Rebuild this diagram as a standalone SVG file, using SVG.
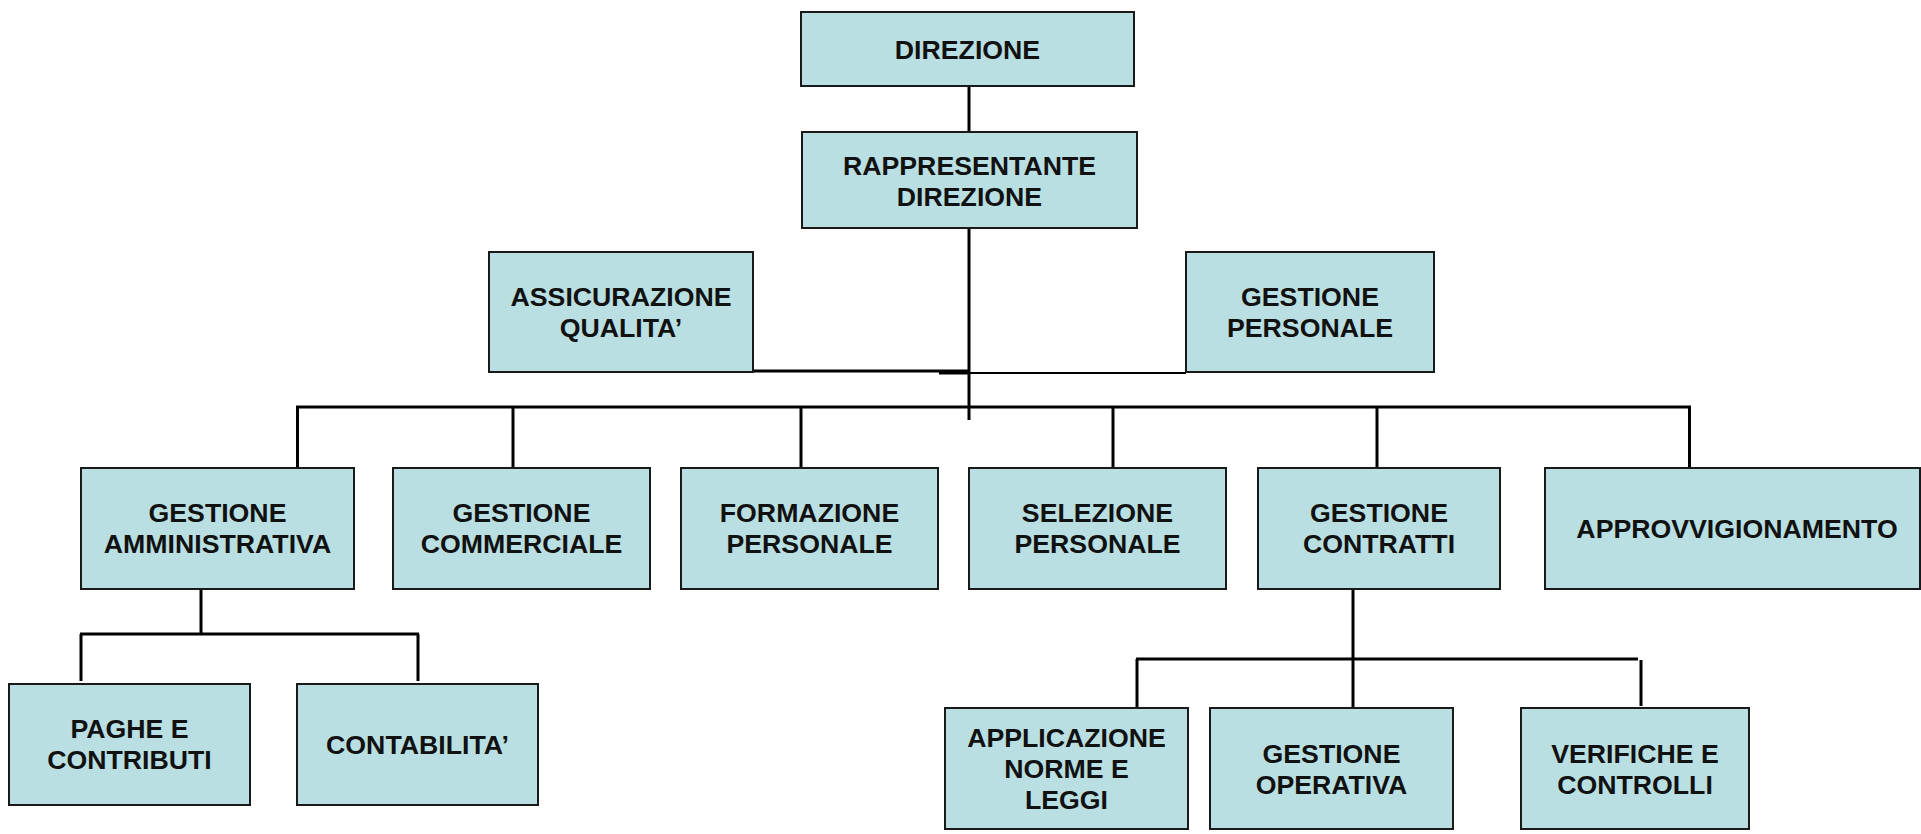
<svg xmlns="http://www.w3.org/2000/svg" width="1921" height="834" viewBox="0 0 1921 834">
<style>
.box{fill:#b9dfe2;stroke:#1a1a1a;stroke-width:2}
.t{font-family:"Liberation Sans",Arial,sans-serif;font-weight:bold;font-size:26.7px;fill:#111;text-anchor:middle}
.c{stroke:#000;stroke-width:3;fill:none}
.c2{stroke:#000;stroke-width:2;fill:none}
</style>
<rect width="1921" height="834" fill="#fff"/>
<g id="connectors">
<line class="c" x1="969" y1="86" x2="969" y2="132"/>
<line class="c" x1="969" y1="228" x2="969" y2="420"/>
<line class="c" x1="753" y1="371" x2="969" y2="371"/>
<line class="c" x1="939" y1="373" x2="969" y2="373"/>
<line class="c2" x1="969" y1="373" x2="1186" y2="373"/>
<line class="c" x1="296" y1="407" x2="1691" y2="407"/>
<line class="c" x1="297.5" y1="407" x2="297.5" y2="468"/>
<line class="c" x1="513" y1="407" x2="513" y2="468"/>
<line class="c" x1="801" y1="407" x2="801" y2="468"/>
<line class="c" x1="1113" y1="407" x2="1113" y2="468"/>
<line class="c" x1="1377" y1="407" x2="1377" y2="468"/>
<line class="c" x1="1689.5" y1="407" x2="1689.5" y2="468"/>
<line class="c" x1="201" y1="589" x2="201" y2="634"/>
<line class="c" x1="80" y1="634" x2="419" y2="634"/>
<line class="c" x1="81" y1="634" x2="81" y2="681"/>
<line class="c" x1="418" y1="634" x2="418" y2="681"/>
<line class="c" x1="1353" y1="589" x2="1353" y2="707"/>
<line class="c" x1="1136" y1="659" x2="1638" y2="659"/>
<line class="c" x1="1137" y1="659" x2="1137" y2="707"/>
<line class="c" x1="1641" y1="660" x2="1641" y2="706"/>
</g>
<g id="direzione">
<rect class="box" x="801" y="12" width="333" height="74"/>
<text class="t" x="967.5" y="58.5">DIREZIONE</text>
</g>
<g id="rappresentante">
<rect class="box" x="802" y="132" width="335" height="96"/>
<text class="t" x="969.5" y="174.5">RAPPRESENTANTE</text>
<text class="t" x="969.5" y="205.5">DIREZIONE</text>
</g>
<g id="assicurazione">
<rect class="box" x="489" y="252" width="264" height="120"/>
<text class="t" x="621" y="305.5">ASSICURAZIONE</text>
<text class="t" x="621" y="336.5">QUALITA’</text>
</g>
<g id="gestione-personale">
<rect class="box" x="1186" y="252" width="248" height="120"/>
<text class="t" x="1310" y="305.5">GESTIONE</text>
<text class="t" x="1310" y="336.5">PERSONALE</text>
</g>
<g id="gestione-amministrativa">
<rect class="box" x="81" y="468" width="273" height="121"/>
<text class="t" x="217.5" y="522">GESTIONE</text>
<text class="t" x="217.5" y="553">AMMINISTRATIVA</text>
</g>
<g id="gestione-commerciale">
<rect class="box" x="393" y="468" width="257" height="121"/>
<text class="t" x="521.5" y="522">GESTIONE</text>
<text class="t" x="521.5" y="553">COMMERCIALE</text>
</g>
<g id="formazione-personale">
<rect class="box" x="681" y="468" width="257" height="121"/>
<text class="t" x="809.5" y="522">FORMAZIONE</text>
<text class="t" x="809.5" y="553">PERSONALE</text>
</g>
<g id="selezione-personale">
<rect class="box" x="969" y="468" width="257" height="121"/>
<text class="t" x="1097.5" y="522">SELEZIONE</text>
<text class="t" x="1097.5" y="553">PERSONALE</text>
</g>
<g id="gestione-contratti">
<rect class="box" x="1258" y="468" width="242" height="121"/>
<text class="t" x="1379" y="522">GESTIONE</text>
<text class="t" x="1379" y="553">CONTRATTI</text>
</g>
<g id="approvvigionamento">
<rect class="box" x="1545" y="468" width="375" height="121"/>
<text class="t" x="1737" y="538">APPROVVIGIONAMENTO</text>
</g>
<g id="paghe">
<rect class="box" x="9" y="684" width="241" height="121"/>
<text class="t" x="129.5" y="738">PAGHE E</text>
<text class="t" x="129.5" y="769">CONTRIBUTI</text>
</g>
<g id="contabilita">
<rect class="box" x="297" y="684" width="241" height="121"/>
<text class="t" x="417.5" y="753.5">CONTABILITA’</text>
</g>
<g id="applicazione">
<rect class="box" x="945" y="708" width="243" height="121"/>
<text class="t" x="1066.5" y="747">APPLICAZIONE</text>
<text class="t" x="1066.5" y="778">NORME E</text>
<text class="t" x="1066.5" y="809">LEGGI</text>
</g>
<g id="gestione-operativa">
<rect class="box" x="1210" y="708" width="243" height="121"/>
<text class="t" x="1331.5" y="762.5">GESTIONE</text>
<text class="t" x="1331.5" y="793.5">OPERATIVA</text>
</g>
<g id="verifiche">
<rect class="box" x="1521" y="708" width="228" height="121"/>
<text class="t" x="1635" y="762.5">VERIFICHE E</text>
<text class="t" x="1635" y="793.5">CONTROLLI</text>
</g>
</svg>
